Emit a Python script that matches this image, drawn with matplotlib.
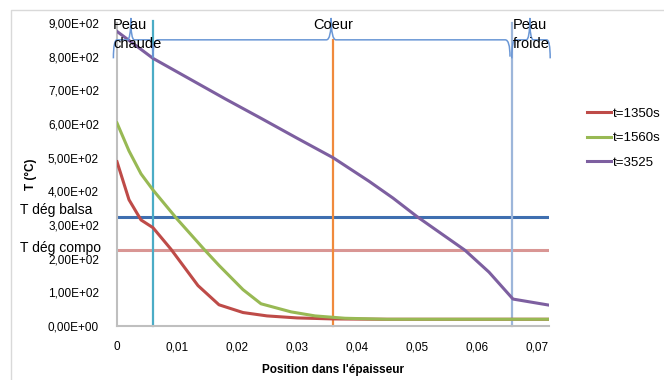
import matplotlib.pyplot as plt
from matplotlib.path import Path
from matplotlib.patches import PathPatch
from matplotlib.lines import Line2D

plt.rcParams['font.family'] = ['Liberation Sans', 'DejaVu Sans']

# Data
x_1350 = [0, 0.002, 0.004, 0.006, 0.009, 0.0135, 0.017, 0.021, 0.025, 0.030, 0.036, 0.045, 0.055, 0.065, 0.072]
t_1350 = [488, 375, 315, 292, 228, 120, 63, 40, 30, 24, 21, 20, 20, 20, 20]

x_1560 = [0, 0.002, 0.004, 0.006, 0.010, 0.0145, 0.017, 0.021, 0.024, 0.029, 0.033, 0.038, 0.045, 0.055, 0.065, 0.072]
t_1560 = [603, 520, 452, 404, 318, 228, 180, 108, 66, 42, 30, 23, 20, 20, 20, 20]

x_3525 = [0, 0.003, 0.006, 0.012, 0.018, 0.024, 0.030, 0.036, 0.042, 0.046, 0.050, 0.054, 0.058, 0.062, 0.066, 0.072]
t_3525 = [875, 835, 795, 735, 675, 617, 558, 500, 430, 380, 325, 275, 225, 160, 80, 62]

t_deg_balsa = 323
t_deg_compo = 225
x_peau_chaude = 0.006
x_coeur = 0.036
x_peau_froide = 0.0658

xticks = [0, 0.01, 0.02, 0.03, 0.04, 0.05, 0.06, 0.07]
xtick_labels = ['0', '0,01', '0,02', '0,03', '0,04', '0,05', '0,06', '0,07']
yticks = [0, 100, 200, 300, 400, 500, 600, 700, 800, 900]
ytick_labels = ['%d,00E+02' % (v // 100) if v else '0,00E+00' for v in yticks]

W, H = 664, 380
fig = plt.figure(figsize=(W / 100, H / 100), dpi=100)
ax = fig.add_axes([117 / W, 1 - 326 / H, 432 / W, 303 / H])

# outer chart frame
fig.add_artist(Line2D([11 / W, 11 / W, 1], [0, 1 - 10 / H, 1 - 10 / H],
                      transform=fig.transFigure, color='#D9D9D9', lw=1))

# reference lines
ax.plot([0, 0.072], [t_deg_balsa] * 2, color='#3F6FB0', lw=2.2, zorder=2)
ax.plot([0, 0.072], [t_deg_compo] * 2, color='#D99694', lw=2.2, zorder=2)
ax.plot([x_peau_chaude] * 2, [0, 905], color='#4BACC6', lw=1.6, clip_on=False, zorder=2)
ax.plot([x_coeur] * 2, [0, 850], color='#F08A3C', lw=1.6, clip_on=False, zorder=2)
ax.plot([x_peau_froide] * 2, [0, 900], color='#9DB6DA', lw=1.6, clip_on=False, zorder=2)

# curves
ax.plot(x_1350, t_1350, color='#BE4B48', lw=2.2, label='t=1350s', zorder=3)
ax.plot(x_1560, t_1560, color='#98B954', lw=2.2, label='t=1560s', zorder=4)
ax.plot(x_3525, t_3525, color='#7D5FA0', lw=2.2, label='t=3525', zorder=3)


def brace(x0, x1, xm, ylow, yh, ytop, r):
    verts = [(x0, ylow), (x0, yh), (x0 + r, yh), (xm - r, yh), (xm, yh), (xm, ytop),
             (xm, yh), (xm + r, yh), (x1 - r, yh), (x1, yh), (x1, ylow)]
    codes = [Path.MOVETO, Path.CURVE3, Path.CURVE3, Path.LINETO, Path.CURVE3, Path.CURVE3,
             Path.CURVE3, Path.CURVE3, Path.LINETO, Path.CURVE3, Path.CURVE3]
    ax.add_patch(PathPatch(Path(verts, codes), fill=False, ec='#6A97D6', lw=1.1,
                           clip_on=False, zorder=5))


brace(-0.0006, 0.006, 0.0023, 795, 850, 915, 0.0006)
brace(0.006, 0.0655, 0.0357, 800, 850, 915, 0.0008)
brace(0.0658, 0.0722, 0.0688, 795, 850, 915, 0.0006)

fig.text(113 / W, 1 - 25 / H, 'Peau', fontsize=10.5, va='center')
fig.text(113 / W, 1 - 44 / H, 'chaude', fontsize=10.5, va='center')
fig.text(333 / W, 1 - 25 / H, 'Coeur', fontsize=10.5, va='center', ha='center')
fig.text(513 / W, 1 - 25 / H, 'Peau', fontsize=10.5, va='center')
fig.text(513 / W, 1 - 44 / H, 'froide', fontsize=10.5, va='center')
fig.text(20 / W, 1 - 210 / H, 'T dég balsa', fontsize=10, va='center')
fig.text(20 / W, 1 - 248 / H, 'T dég compo', fontsize=10, va='center')

ax.set_xlim(0, 0.072)
ax.set_ylim(0, 900)
ax.set_xticks(xticks)
ax.set_xticklabels(xtick_labels)
ax.set_yticks(yticks)
ax.set_yticklabels(ytick_labels)
ax.tick_params(length=0, labelsize=8.5, pad=11)
ax.tick_params(axis='y', pad=13)
for s in ['top', 'right']:
    ax.spines[s].set_visible(False)
for s in ['left', 'bottom']:
    ax.spines[s].set_color('#BFBFBF')
    ax.spines[s].set_linewidth(1.5)

ax.set_xlabel("Position dans l'épaisseur", fontsize=8.5, fontweight='bold', labelpad=8)
ax.set_ylabel('T (°C)', fontsize=8.5, fontweight='bold', labelpad=8)

fig.legend(loc='upper left', bbox_to_anchor=(582 / W, 1 - 102 / H), frameon=False,
           fontsize=9.5, handlelength=1.8, handletextpad=0.15, labelspacing=0.95,
           borderaxespad=0)

fig.savefig('out.png', dpi=100)
